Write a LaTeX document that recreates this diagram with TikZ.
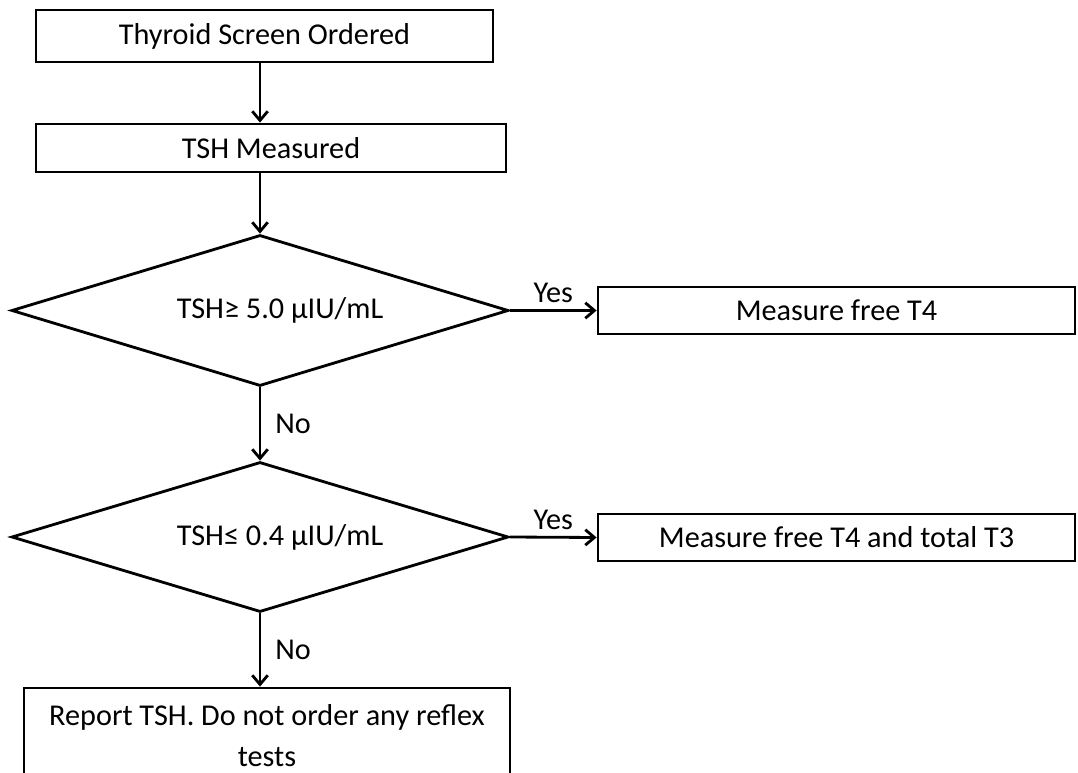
\documentclass[tikz,border=0pt]{standalone}
\usepackage{fontspec}
\setmainfont{Carlito}
\usetikzlibrary{shapes.geometric,arrows.meta}
\def\PX{0.025cm}
\begin{document}
\begin{tikzpicture}[x=0.025cm,y=-0.025cm,
  line width=2pt,
  every node/.style={font=\fontsize{21.5}{26}\selectfont, inner sep=0pt},
  stepbox/.style={draw, rectangle, align=center},
  decision/.style={draw, diamond, aspect=3.3},
  arr/.style={-{Straight Barb[length=6.5pt,width=11pt,line width=2pt]}},
  lbl/.style={font=\fontsize{21.5}{26}\selectfont}
]
\useasboundingbox (0,0) rectangle (1078,773);

% process boxes and decisions
\node[stepbox, minimum width=457*\PX, minimum height=52*\PX] (order) at (264.5,36) {Thyroid Screen Ordered};
\node[stepbox, minimum width=470*\PX, minimum height=48*\PX] (tsh) at (271,148) {TSH Measured};
\node[decision, minimum width=497*\PX, minimum height=151*\PX,
      label={[xshift=20*\PX]center:TSH≥ 5.0 µIU/mL}] (high) at (260,310.5) {};
\node[stepbox, minimum width=477*\PX, minimum height=47*\PX] (ft4) at (836.5,310.5) {Measure free T4};
\node[decision, minimum width=497*\PX, minimum height=150*\PX,
      label={[xshift=20*\PX]center:TSH≤ 0.4 µIU/mL}] (low) at (260,537) {};
\node[stepbox, minimum width=477*\PX, minimum height=47*\PX] (ft4t3) at (836.5,537.5) {Measure free T4 and total T3};
\node[stepbox, minimum width=486*\PX, minimum height=96*\PX] (report) at (267,736)
  {Report TSH. Do not order any reflex\\[3pt]tests};

% connectors
\draw[arr] (order.south -| high.north) -- (tsh.north -| high.north);
\draw[arr] (tsh.south -| high.north) -- (high.north);
\draw[arr] (high.east) -- node[lbl, above=6*\PX] {Yes} (ft4.west);
\draw[arr] (high.south) -- node[lbl, right=14*\PX] {No} (low.north);
\draw[arr] (low.east) -- node[lbl, above=6*\PX] {Yes} (ft4t3.west);
\draw[arr] (low.south) -- node[lbl, right=14*\PX] {No} (report.north -| low.south);
\end{tikzpicture}
\end{document}
